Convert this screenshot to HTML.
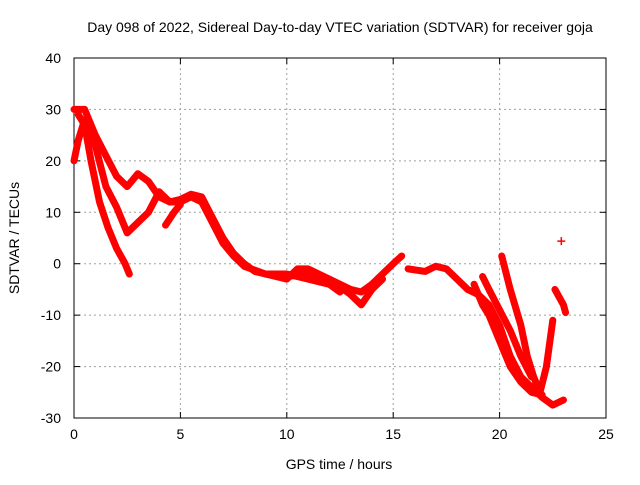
<!DOCTYPE html>
<html><head><meta charset="utf-8"><style>
body{margin:0;background:#fff;font-family:"Liberation Sans",sans-serif}
svg text{font-family:"Liberation Sans",sans-serif;font-size:14px;fill:#000}
</style></head><body>
<svg width="640" height="480">
<text x="340" y="32" text-anchor="middle">Day 098 of 2022, Sidereal Day-to-day VTEC variation (SDTVAR) for receiver goja</text>
<g id="grid"></g>
<g id="axes"></g>
<g id="marks"></g>
<text x="339" y="469" text-anchor="middle">GPS time / hours</text>
<text transform="translate(19,238) rotate(-90)" text-anchor="middle">SDTVAR / TECUs</text>
</svg>
<script>
const xTicks=[0,5,10,15,20,25];
const yTicks=[-30,-20,-10,0,10,20,30,40];
const trackA=[[0,30],[0.5,30],[1,25],[1.5,21],[2,17],[2.5,15],[3,17.5],[3.5,16],[4,13],[4.5,12],[5,12.5],[5.5,13.5],[6,13],[6.5,9],[7,5],[7.5,2],[8,0],[8.5,-1.5],[9,-2],[10,-2.5],[11,-2],[12,-3],[13,-5],[13.5,-5.5],[14,-4],[14.5,-2],[15,0],[15.4,1.5]];
const trackB=[[0.2,29],[0.5,27],[0.8,20],[1.2,12],[1.6,7],[2,3],[2.4,0],[2.6,-2]];
const trackC=[[0,20],[0.2,24],[0.5,28],[1,23],[1.5,15],[2,11],[2.5,6],[3,8],[3.5,10],[4,14],[4.5,12],[5,12],[5.5,13],[6,12],[6.5,8],[7,4],[7.5,1.5],[8,-0.5],[9,-2],[10,-2],[11,-3],[12,-4],[12.5,-5.5]];
const trackC2=[[4.3,7.5],[4.7,10],[5,11.5]];
const trackD=[[9,-2],[10,-3],[10.5,-1],[11,-1],[12,-3],[13,-6],[13.5,-8],[14,-5],[14.5,-3]];
const trackE=[[15.7,-1],[16.5,-1.5],[17,-0.5],[17.5,-1],[18,-3],[18.5,-5],[19,-6],[19.5,-8],[20,-12],[20.5,-18],[21,-22],[21.5,-24],[22,-26],[22.5,-27.5],[23,-26.5]];
const trackF=[[18.8,-4],[19.2,-8],[19.5,-10],[20,-15],[20.5,-20],[21,-23],[21.5,-25],[22,-25.5]];
const trackG=[[19.2,-2.5],[19.5,-5],[20,-9],[20.5,-13],[21,-18],[21.5,-22]];
const trackH=[[20.1,1.5],[20.5,-5],[21,-12],[21.3,-18],[21.6,-22],[21.9,-25],[22.2,-20],[22.5,-11]];
const trackI=[[22.6,-5],[23,-8],[23.1,-9.5]];
const singlePoints=[[22.9,4.4]];
const tracks=[trackA,trackB,trackC,trackC2,trackD,trackE,trackF,trackG,trackH,trackI];
const NS="http://www.w3.org/2000/svg";
const L=74,R=606,T=58,B=418;
const X=v=>L+v*(R-L)/25, Y=v=>B-(v+30)*(B-T)/70;
function mk(t,a,p){const e=document.createElementNS(NS,t);for(const k in a)e.setAttribute(k,a[k]);p.appendChild(e);return e;}
const grid=document.getElementById('grid'),axes=document.getElementById('axes'),marks=document.getElementById('marks');
xTicks.forEach(t=>{
 if(t>0&&t<25){const l=mk('line',{x1:X(t),x2:X(t),y1:T,y2:B,stroke:'#a0a0a0','stroke-dasharray':'2,3'},grid);
 
 }
 mk('line',{x1:X(t),x2:X(t),y1:B,y2:B-6,stroke:'#000'},axes);mk('line',{x1:X(t),x2:X(t),y1:T,y2:T+6,stroke:'#000'},axes);
 const tx=mk('text',{x:X(t),y:B+21,'text-anchor':'middle'},axes);tx.textContent=t;
 
 
});
yTicks.forEach(t=>{
 if(t>-30&&t<40){const l=mk('line',{x1:L,x2:R,y1:Y(t),y2:Y(t),stroke:'#a0a0a0','stroke-dasharray':'2,3'},grid);
 
 }
 mk('line',{x1:L,x2:L+6,y1:Y(t),y2:Y(t),stroke:'#000'},axes);mk('line',{x1:R,x2:R-6,y1:Y(t),y2:Y(t),stroke:'#000'},axes);
 const tx=mk('text',{x:61,y:Y(t)+5,'text-anchor':'end'},axes);tx.textContent=t;
 
 
});
mk('rect',{x:L,y:T,width:R-L,height:B-T,fill:'none',stroke:'#000'},axes);
tracks.forEach(tr=>{
 const p=mk('polyline',{points:tr.map(d=>X(d[0])+','+Y(d[1])).join(' '),fill:'none',stroke:'#f00','stroke-width':7,'stroke-linejoin':'round','stroke-linecap':'round'},marks);
 
 
});
singlePoints.forEach(d=>{
 const g=mk('path',{d:`M${X(d[0])-4},${Y(d[1])}h8M${X(d[0])},${Y(d[1])-4}v8`,stroke:'#f00','stroke-width':1.5},marks);
 
 
});
</script>
</body></html>
